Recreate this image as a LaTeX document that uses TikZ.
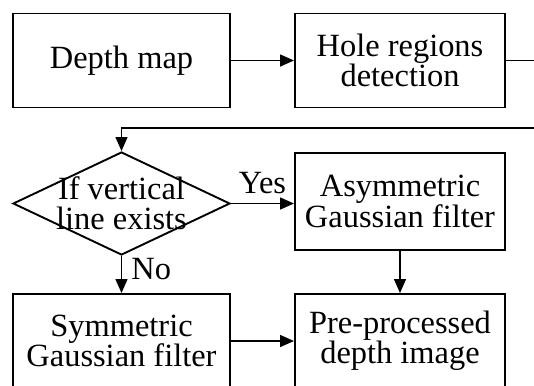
\documentclass[tikz,border=0pt]{standalone}
\usepackage{fontspec}
\setmainfont{Liberation Serif}
\usetikzlibrary{shapes.geometric,arrows.meta}

\begin{document}
\begin{tikzpicture}[x=0.37pt,y=-0.37pt,
    every node/.style={font=\fontsize{12}{11.2}\selectfont},
    block/.style={draw,line width=0.7pt,rectangle,align=center,
      minimum height=94*0.37pt,inner sep=0pt},
    arr/.style={line width=0.7pt,-{Triangle[length=5.2pt,width=4.4pt]}}]

    \pgfmathsetmacro{\wl}{217*0.37}
    \pgfmathsetmacro{\wr}{210*0.37}

    \useasboundingbox (0,0) rectangle (534,385);
    \clip (0,0) rectangle (534,385);

    \node[block,minimum width=\wl pt] (depth) at (121.5,60.5) {Depth map};
    \node[block,minimum width=\wr pt] (hole) at (400,60.5) {Hole regions\\detection};

    \node[draw,line width=0.7pt,diamond,minimum width=217*0.37pt,
      minimum height=103*0.37pt,inner sep=0pt] (check) at (121.5,203.5) {};
    \node[align=center] (checktxt) at (121.5,203.5) {If vertical\\line exists};

    \node[block,minimum width=\wr pt,minimum height=97*0.37pt] (asym) at (400,201.5)
      {Asymmetric\\Gaussian filter};
    \node[block,minimum width=\wl pt] (sym) at (121.5,341)
      {Symmetric\\Gaussian filter};
    \node[block,minimum width=\wr pt] (pre) at (400,341)
      {Pre-processed\\depth image};

    \coordinate (loop) at (548,128);

    \draw[arr] (depth) -- (hole);
    \draw[arr] (hole.east) -| (loop) -| (check.north);
    \draw[arr] (check.east) -- node[midway,above] {Yes} (asym.west |- check.east);
    \draw[arr] (check.south) -- node[pos=0.35,right] {No} (sym.north);
    \draw[arr] (asym) -- (pre);
    \draw[arr] (sym) -- (pre);
  \end{tikzpicture}
\end{document}
